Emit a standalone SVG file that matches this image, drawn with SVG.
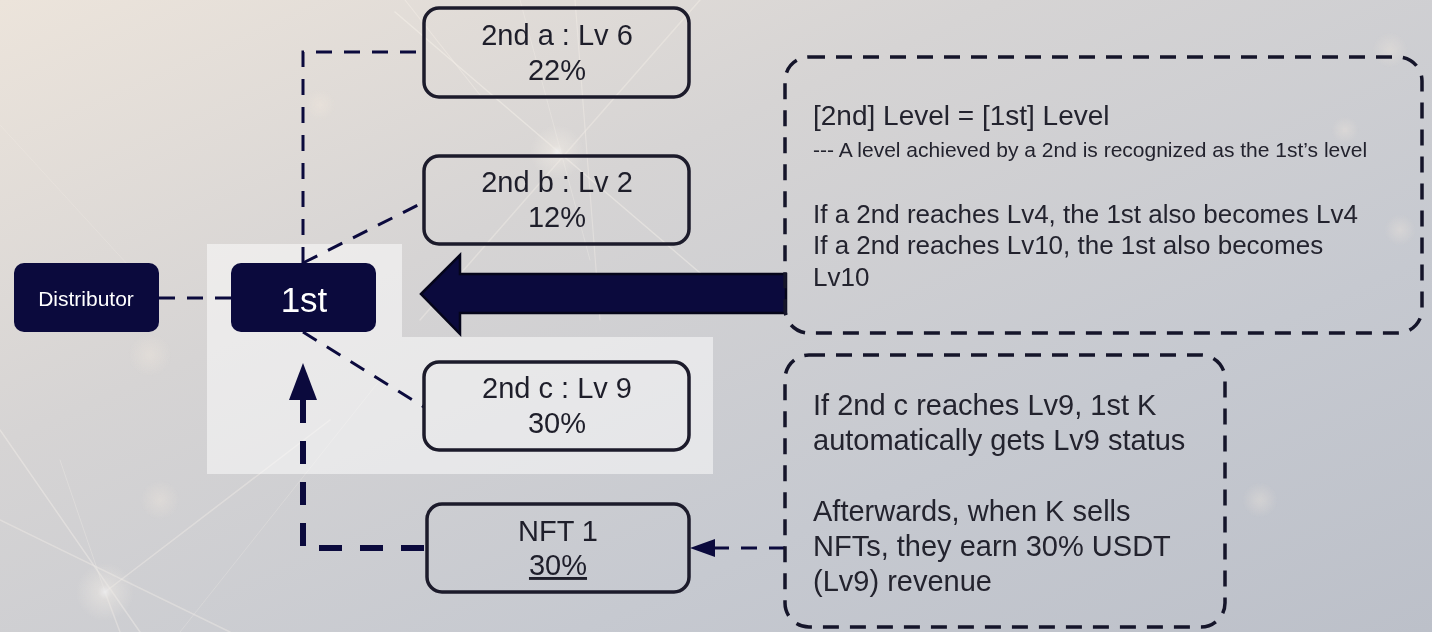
<svg xmlns="http://www.w3.org/2000/svg" width="1432" height="632" viewBox="0 0 1432 632">
  <defs>
    <linearGradient id="bg" x1="0" y1="0" x2="1" y2="1">
      <stop offset="0" stop-color="#ece4db"/>
      <stop offset="0.35" stop-color="#d6d4d4"/>
      <stop offset="0.7" stop-color="#c6c9d0"/>
      <stop offset="1" stop-color="#bcc0c9"/>
    </linearGradient>
    <radialGradient id="glow">
      <stop offset="0" stop-color="#ffffff" stop-opacity="0.95"/>
      <stop offset="0.25" stop-color="#fff8ee" stop-opacity="0.5"/>
      <stop offset="1" stop-color="#fff8ee" stop-opacity="0"/>
    </radialGradient>
    <radialGradient id="bokeh">
      <stop offset="0" stop-color="#f6ece0" stop-opacity="0.55"/>
      <stop offset="1" stop-color="#f6ece0" stop-opacity="0"/>
    </radialGradient>
    <marker id="headBig" markerUnits="userSpaceOnUse" markerWidth="37" markerHeight="28" viewBox="0 0 37 28" refX="0" refY="14" orient="auto-start-reverse">
      <path d="M0,0 L37,14 L0,28 Z" fill="#0b0a3d"/>
    </marker>
    <marker id="headSmall" markerUnits="userSpaceOnUse" markerWidth="25" markerHeight="18" viewBox="0 0 25 18" refX="0" refY="9" orient="auto">
      <path d="M0,0 L25,9 L0,18 Z" fill="#0b0a3d"/>
    </marker>
    <style>
      .font { font-family: "Liberation Sans", Arial, sans-serif; }
      .solid { fill: #0b0a3d; }
      .solid text { fill: #ffffff; }
      .node rect { fill: none; stroke: #1c1b2b; stroke-width: 3.5; }
      .node text { fill: #1e1e2a; font-size: 29px; text-anchor: middle; }
      .link { fill: none; stroke: #0b0a3d; stroke-width: 3; stroke-dasharray: 16 12; }
      .link-thick { fill: none; stroke: #0b0a3d; stroke-width: 6; stroke-dasharray: 23 18; }
      .note rect { fill: none; stroke: #15152a; stroke-width: 3.5; stroke-dasharray: 16 11; }
      .note text { fill: #23232e; }
      .ray { stroke: #fffaf2; stroke-linecap: round; fill: none; }
    </style>
  </defs>

  <!-- backdrop -->
  <rect width="1432" height="632" fill="url(#bg)"/>
  <g id="backdrop-light" opacity="0.6">
    <line class="ray" x1="395" y1="12" x2="720" y2="290" stroke-width="1.5" opacity="0.6"/>
    <line class="ray" x1="700" y1="0" x2="420" y2="320" stroke-width="1.5" opacity="0.5"/>
    <line class="ray" x1="575" y1="0" x2="600" y2="320" stroke-width="1.2" opacity="0.5"/>
    <line class="ray" x1="520" y1="0" x2="590" y2="260" stroke-width="1" opacity="0.4"/>
    <line class="ray" x1="405" y1="0" x2="480" y2="95" stroke-width="1.2" opacity="0.5"/>
    <line class="ray" x1="0" y1="125" x2="160" y2="300" stroke-width="1" opacity="0.3"/>
    <line class="ray" x1="0" y1="430" x2="140" y2="632" stroke-width="1.5" opacity="0.55"/>
    <line class="ray" x1="0" y1="520" x2="230" y2="632" stroke-width="1.5" opacity="0.5"/>
    <line class="ray" x1="105" y1="592" x2="330" y2="420" stroke-width="1.5" opacity="0.5"/>
    <line class="ray" x1="105" y1="592" x2="60" y2="460" stroke-width="1" opacity="0.4"/>
    <line class="ray" x1="105" y1="592" x2="120" y2="632" stroke-width="1.5" opacity="0.5"/>
    <line class="ray" x1="180" y1="632" x2="380" y2="380" stroke-width="1" opacity="0.35"/>
    <circle cx="557" cy="152" r="28" fill="url(#glow)"/>
    <circle cx="105" cy="592" r="30" fill="url(#glow)"/>
    <circle cx="150" cy="355" r="22" fill="url(#bokeh)"/>
    <circle cx="320" cy="105" r="16" fill="url(#bokeh)"/>
    <circle cx="160" cy="500" r="20" fill="url(#bokeh)"/>
    <circle cx="1390" cy="50" r="18" fill="url(#bokeh)"/>
    <circle cx="1345" cy="130" r="14" fill="url(#bokeh)"/>
    <circle cx="1400" cy="230" r="16" fill="url(#bokeh)"/>
    <circle cx="1260" cy="500" r="18" fill="url(#bokeh)"/>
  </g>

  <!-- light panel behind the first level -->
  <path id="panel" d="M207,244 H402 V337 H713 V474 H207 Z" fill="#ffffff" fill-opacity="0.5"/>

  <!-- connectors -->
  <g id="connectors">
    <path class="link" d="M159,298 H231"/>
    <path class="link" d="M303,263 V52 H424"/>
    <path class="link" d="M303,263 L424,202"/>
    <path class="link" d="M303,332 L424,407"/>
    <path class="link-thick" d="M303,400 V548 H427" marker-start="url(#headBig)"/>
    <path class="link" d="M785,548 H715" marker-end="url(#headSmall)"/>
    <path id="level-arrow" d="M421,294 L460,255 V274 H786 V313 H460 V334 Z" fill="#0b0a3d" stroke="#05051a" stroke-width="2.5" stroke-linejoin="miter"/>
  </g>

  <!-- nodes -->
  <g id="distributor" class="solid font">
    <rect x="14" y="263" width="145" height="69" rx="10"/>
    <text x="86" y="306" font-size="21" text-anchor="middle">Distributor</text>
  </g>
  <g id="first" class="solid font">
    <rect x="231" y="263" width="145" height="69" rx="10"/>
    <text x="304" y="312" font-size="35" text-anchor="middle">1st</text>
  </g>
  <g id="second-a" class="node font">
    <rect x="424" y="8" width="265" height="89" rx="15"/>
    <text x="557" y="45">2nd a : Lv 6</text>
    <text x="557" y="80">22%</text>
  </g>
  <g id="second-b" class="node font">
    <rect x="424" y="156" width="265" height="88" rx="15"/>
    <text x="557" y="192">2nd b : Lv 2</text>
    <text x="557" y="227">12%</text>
  </g>
  <g id="second-c" class="node font">
    <rect x="424" y="362" width="265" height="88" rx="15"/>
    <text x="557" y="398">2nd c : Lv 9</text>
    <text x="557" y="433">30%</text>
  </g>
  <g id="nft-1" class="node font">
    <rect x="427" y="504" width="262" height="88" rx="15"/>
    <text x="558" y="541">NFT 1</text>
    <text x="558" y="575" text-decoration="underline">30%</text>
  </g>

  <!-- notes -->
  <g id="note-level" class="note font">
    <rect x="785" y="57" width="637" height="276" rx="24"/>
    <text x="813" y="125" font-size="28">[2nd] Level = [1st] Level</text>
    <text x="813" y="157" font-size="21">--- A level achieved by a 2nd is recognized as the 1st’s level</text>
    <text x="813" y="223" font-size="26">If a 2nd reaches Lv4, the 1st also becomes Lv4</text>
    <text x="813" y="254" font-size="26">If a 2nd reaches Lv10, the 1st also becomes</text>
    <text x="813" y="286" font-size="26">Lv10</text>
  </g>
  <g id="note-nft" class="note font">
    <rect x="785" y="355" width="440" height="272" rx="24"/>
    <text x="813" y="415" font-size="29">If 2nd c reaches Lv9, 1st K</text>
    <text x="813" y="450" font-size="29">automatically gets Lv9 status</text>
    <text x="813" y="521" font-size="29">Afterwards, when K sells</text>
    <text x="813" y="556" font-size="29">NFTs, they earn 30% USDT</text>
    <text x="813" y="591" font-size="29">(Lv9) revenue</text>
  </g>
</svg>
